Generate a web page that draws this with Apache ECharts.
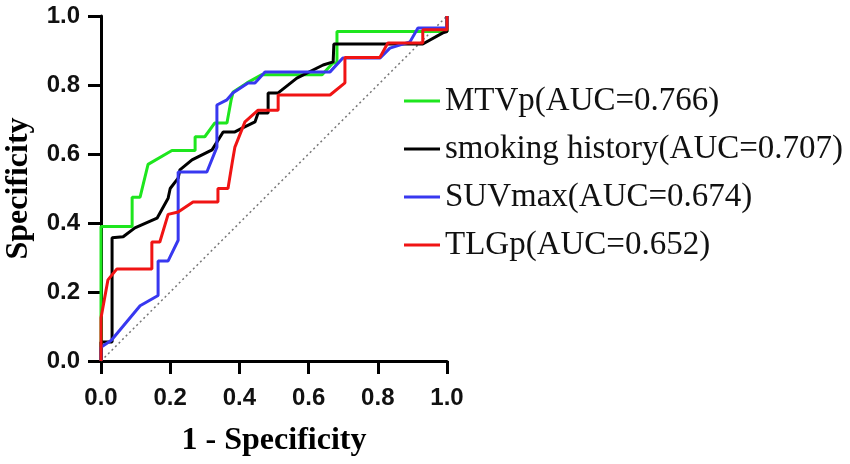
<!DOCTYPE html>
<html>
<head>
<meta charset="utf-8">
<script src="https://cdn.jsdelivr.net/npm/echarts@6/dist/echarts.min.js"></script>
<style>
html, body { margin: 0; padding: 0; background: #fff; }
#chart { width: 850px; height: 464px; }
</style>
</head>
<body>
<div id="chart"></div>
<script>
var legendNames = ['MTVp(AUC=0.766)', 'smoking history(AUC=0.707)', 'SUVmax(AUC=0.674)', 'TLGp(AUC=0.652)'];
var tickValues = [0, 0.2, 0.4, 0.6, 0.8, 1.0];

// MTVp
var mtvpX = [0, 0, 0.09, 0.09, 0.113, 0.136, 0.205, 0.272, 0.272, 0.30, 0.329, 0.364, 0.376, 0.382, 0.422, 0.465, 0.639, 0.67, 0.682, 0.682, 1.0, 1.0];
var mtvpY = [0, 0.39, 0.39, 0.475, 0.475, 0.57, 0.61, 0.61, 0.65, 0.65, 0.69, 0.69, 0.756, 0.78, 0.806, 0.83, 0.83, 0.864, 0.864, 0.955, 0.955, 1.0];

// smoking history
var smokeX = [0, 0, 0.032, 0.032, 0.064, 0.098, 0.162, 0.194, 0.20, 0.223, 0.228, 0.263, 0.321, 0.353, 0.387, 0.408, 0.445, 0.454, 0.483, 0.483, 0.512, 0.566, 0.642, 0.671, 0.673, 0.93, 0.988, 1.0, 1.0];
var smokeY = [0, 0.055, 0.055, 0.357, 0.36, 0.386, 0.414, 0.472, 0.50, 0.53, 0.554, 0.583, 0.612, 0.664, 0.664, 0.675, 0.693, 0.719, 0.719, 0.777, 0.777, 0.82, 0.858, 0.867, 0.919, 0.919, 0.951, 0.955, 1.0];

// SUVmax
var suvX = [0, 0, 0.03, 0.113, 0.165, 0.165, 0.194, 0.223, 0.223, 0.306, 0.335, 0.335, 0.364, 0.381, 0.425, 0.445, 0.474, 0.662, 0.699, 0.806, 0.835, 0.893, 0.916, 1.0, 1.0];
var suvY = [0, 0.04, 0.06, 0.16, 0.19, 0.29, 0.29, 0.35, 0.548, 0.548, 0.62, 0.742, 0.757, 0.777, 0.806, 0.806, 0.838, 0.838, 0.878, 0.878, 0.907, 0.925, 0.965, 0.965, 1.0];

// TLGp
var tlgX = [0, 0, 0.02, 0.046, 0.147, 0.147, 0.17, 0.194, 0.223, 0.266, 0.338, 0.338, 0.367, 0.38, 0.387, 0.416, 0.454, 0.512, 0.512, 0.662, 0.705, 0.705, 0.806, 0.829, 0.93, 0.93, 1.0, 1.0];
var tlgY = [0, 0.125, 0.235, 0.267, 0.267, 0.345, 0.345, 0.425, 0.432, 0.461, 0.461, 0.50, 0.50, 0.58, 0.62, 0.693, 0.727, 0.727, 0.771, 0.771, 0.806, 0.88, 0.88, 0.922, 0.922, 0.96, 0.96, 1.0];

var chanceX = [0, 1];
var chanceY = [0, 1];

var colors = ['#1ee61e', '#000000', '#3838f0', '#f01414'];

function pairs(xs, ys) {
	var out = [];
	for (var i = 0; i < xs.length; i++) {
		out.push([xs[i], ys[i]]);
	}
	return out;
}

function tickLabel(v) {
	return v.toFixed(1);
}

function drawRoc() {
	var myChart = echarts.init(document.getElementById('chart'));
	var allX = [mtvpX, smokeX, suvX, tlgX];
	var allY = [mtvpY, smokeY, suvY, tlgY];
	var series = [{
		name: 'chance',
		type: 'line',
		data: pairs(chanceX, chanceY),
		symbol: 'none',
		silent: true,
		lineStyle: { color: '#777', width: 1.5, type: [2, 3] },
		z: 1
	}];
	for (var i = 0; i < legendNames.length; i++) {
		series.push({
			name: legendNames[i],
			type: 'line',
			data: pairs(allX[i], allY[i]),
			symbol: 'none',
			lineStyle: { color: colors[i], width: 3 },
			itemStyle: { color: colors[i] }
		});
	}
	var axisCommon = {
		type: 'value',
		min: 0,
		max: 1,
		interval: 0.2,
		splitLine: { show: false },
		axisLine: { show: true, onZero: false, lineStyle: { color: '#000', width: 3 } },
		axisTick: { show: true, length: 13, lineStyle: { color: '#000', width: 3 } },
		axisLabel: {
			formatter: tickLabel,
			color: '#111',
			fontFamily: 'Liberation Sans',
			fontWeight: 'bold',
			fontSize: 24
		},
		nameLocation: 'middle',
		nameTextStyle: {
			color: '#000',
			fontFamily: 'Liberation Serif',
			fontWeight: 'bold',
			fontSize: 32
		}
	};
	var option = {
		animation: false,
		backgroundColor: '#fff',
		grid: { left: 101, right: 403, top: 16, bottom: 103, containLabel: false },
		xAxis: echarts.util.merge({
			name: '1 - Specificity',
			nameGap: 64,
			axisLabel: { margin: 25 }
		}, axisCommon),
		yAxis: echarts.util.merge({
			name: 'Specificity',
			nameGap: 66,
			axisLabel: { margin: 21 }
		}, axisCommon),
		legend: {
			data: legendNames,
			orient: 'vertical',
			left: 399,
			top: 79,
			itemWidth: 36,
			itemHeight: 3,
			itemGap: 14,
			icon: 'rect',
			textStyle: {
				fontFamily: 'Liberation Serif',
				fontSize: 33,
				lineHeight: 34,
				color: '#111'
			}
		},
		series: series
	};
	myChart.setOption(option);
}

drawRoc();
</script>
</body>
</html>
